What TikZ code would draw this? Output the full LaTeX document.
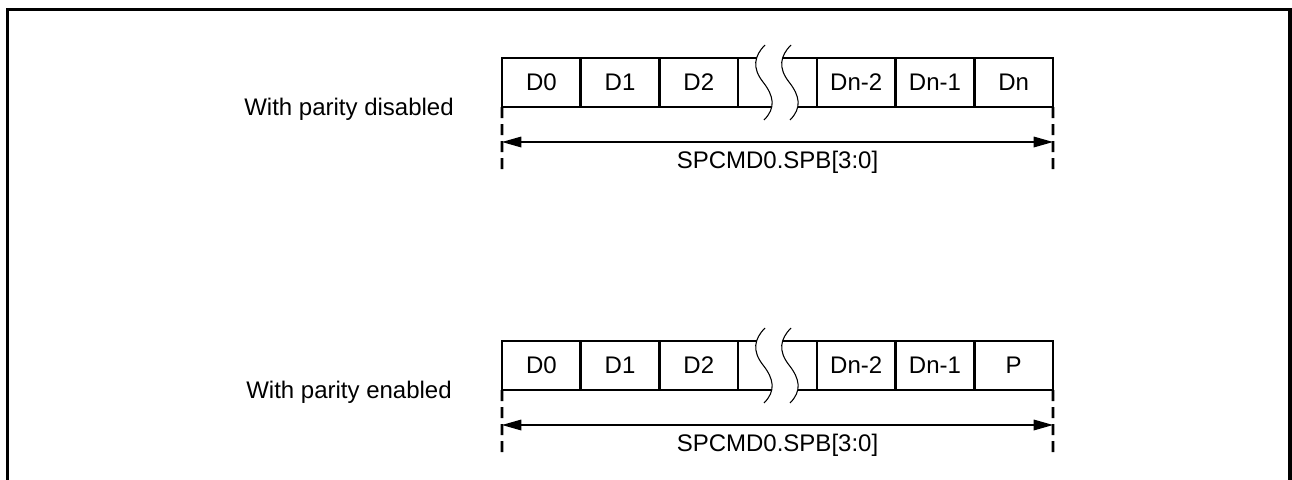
\documentclass[tikz,border=0pt]{standalone}
\usepackage{fontspec}
\setmainfont{Liberation Sans}
\usetikzlibrary{arrows.meta}
\begin{document}
\begin{tikzpicture}[x=0.75pt,y=-0.75pt,
  txt/.style={font=\fontsize{18}{21}\selectfont, inner sep=0pt},
  cell/.style={draw, line width=2pt, minimum width=59.025pt, minimum height=36.75pt,
    inner sep=0pt, outer sep=0pt, txt},
  frameline/.style={line width=2.3pt, line join=miter},
  dimline/.style={line width=1.9pt, dash pattern=on 8.25pt off 4.5pt},
  arrline/.style={line width=0.9pt, {Triangle[length=14.5pt,width=8pt]}-{Triangle[length=14.5pt,width=8pt]}},
  wave/.style={line width=0.8pt}
]
\useasboundingbox (0,0) rectangle (1292,479);
\draw[frameline] (7.5,485) -- (7.5,9.7) -- (1290,9.7) -- (1290,485);

\foreach \row/\yy/\last/\lab in {a/58/Dn/disabled, b/341/P/enabled}{
  \begin{scope}[shift={(0,\yy)}]
    \foreach \i/\t in {0/D0,1/D1,2/D2,3/{},4/Dn-2,5/Dn-1,6/\last}{
      \node[cell] (\row\i) at ({502+78.714*\i+39.357},24.5) {\t};
    }
    % break marks
    \fill[white] (765,-13) .. controls (754,-2) and (752,10) .. (763,24)
        .. controls (774,38) and (776,50) .. (764,62)
        -- (790,62) .. controls (802,50) and (800,38) .. (789,24)
        .. controls (778,10) and (780,-2) .. (791,-13) -- cycle;
    \draw[wave] (765,-13) .. controls (754,-2) and (752,10) .. (763,24)
        .. controls (774,38) and (776,50) .. (764,62);
    \draw[wave] (791,-13) .. controls (780,-2) and (778,10) .. (789,24)
        .. controls (800,38) and (802,50) .. (790,62);
    % dimension
    \coordinate (\row-dl) at (502,114);
    \coordinate (\row-dr) at (1053,114);
    \coordinate (\row-al) at (502,84);
    \coordinate (\row-ar) at (1053,84);
    \draw[dimline] (\row0.south west) -- (\row-dl);
    \draw[dimline] (\row6.south east) -- (\row-dr);
    \draw[arrline] (\row-al) -- (\row-ar);
    \node[txt, anchor=base] (\row-dim) at (777.5,110) {SPCMD0.SPB[3:0]};
    \node[txt, anchor=base] (\row-lab) at (349,57) {With parity \lab};
  \end{scope}
}
\end{tikzpicture}
\end{document}
